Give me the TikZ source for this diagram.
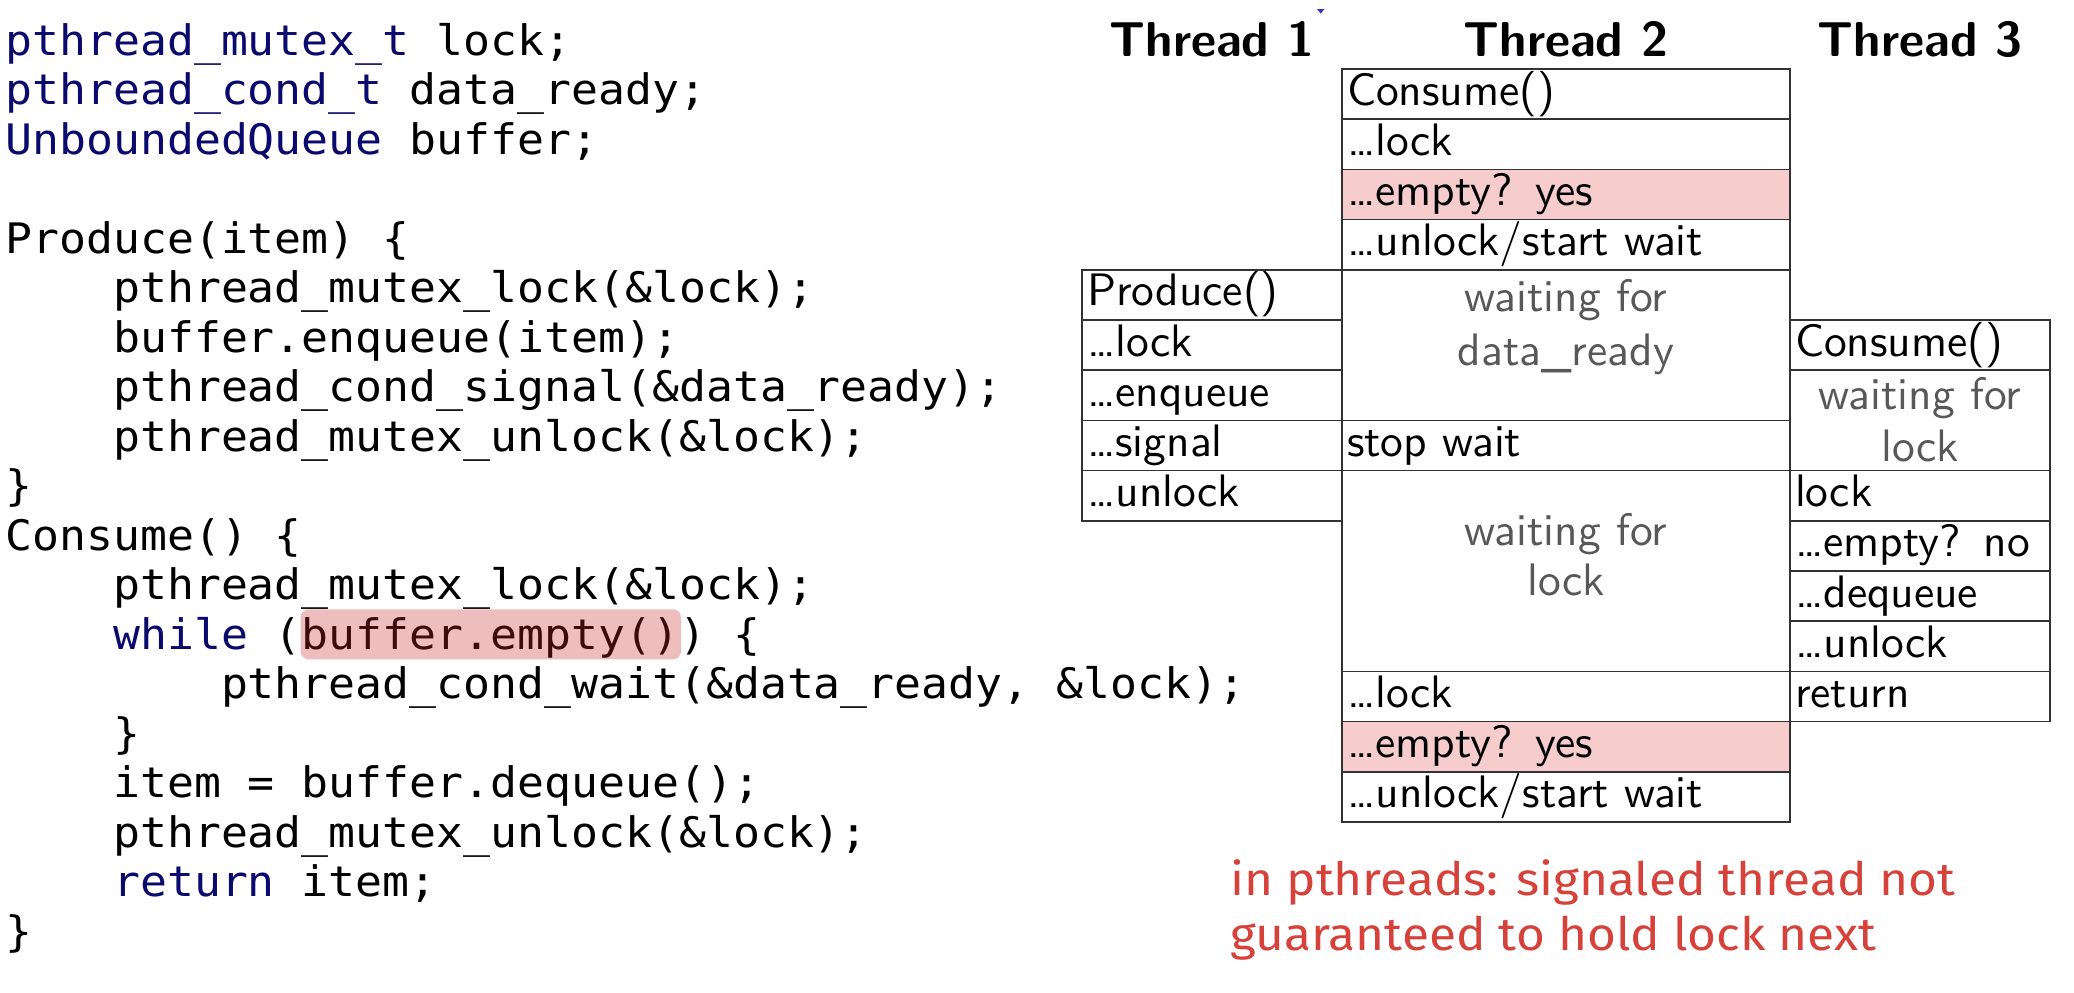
\documentclass[tikz,border=0pt]{standalone}
\usepackage{fontspec}
\usetikzlibrary{calc}
\newfontfamily\codefontfam{DejaVu Sans Mono}[FakeStretch=1.066]
\newfontfamily\cellfontfam{lmsans10-regular.otf}
\newfontfamily\hdrfontfam{lmsans10-bold.otf}
\newfontfamily\handfontfam{Fira Sans}[FakeStretch=1.078]
\definecolor{navy}{RGB}{10,10,110}
\definecolor{linec}{RGB}{50,50,50}
\definecolor{pinkfill}{RGB}{246,204,204}
\definecolor{hlred}{RGB}{200,40,40}
\definecolor{waitgray}{RGB}{88,88,88}
\definecolor{handred}{RGB}{214,66,58}
\definecolor{bluemark}{RGB}{50,50,210}
\newcommand\codef{\codefontfam\fontsize{21pt}{24pt}\selectfont}
\newcommand\cellf{\cellfontfam\fontsize{22.75pt}{27pt}\selectfont}
\newcommand\hdrf{\hdrfontfam\fontsize{24.5pt}{29pt}\selectfont}
\newcommand\handf{\handfontfam\fontsize{23pt}{27pt}\selectfont}
\newcommand\ind[1]{\hphantom{#1}}
\begin{document}
\begin{tikzpicture}[x=0.5pt,y=-0.5pt,
  code/.style={anchor=base west, inner sep=0pt, font=\codef, text=black},
  cell/.style={draw=linec, line width=0.8pt, anchor=north west, outer sep=0pt,
    inner xsep=2.5pt, inner ysep=0pt, minimum height=25.1pt,
    text height=18pt, text depth=7.1pt, align=left, font=\cellf, text=black},
  narrow/.style={cell, text width=125pt},
  wide/.style={cell, text width=219pt},
  pinkc/.style={fill=pinkfill},
  waitbox/.style={draw=linec, line width=0.8pt, anchor=north west, outer sep=0pt,
    inner sep=0pt, minimum height=#1},
  waittxt/.style={anchor=base, inner sep=0pt, font=\cellf, text=waitgray},
  hdr/.style={anchor=base, inner sep=0pt, font=\hdrf, text=black},
  hand/.style={anchor=base west, inner sep=0pt, font=\handf, text=handred}]
\useasboundingbox (0,0) rectangle (2074,992);

% ---------- code ----------
\node[code] (c0) at (5,55) {\textcolor{navy}{pthread\_mutex\_t} lock;};
\node[code] (c1) at (5,104.5) {\textcolor{navy}{pthread\_cond\_t} data\_ready;};
\node[code] (c2) at (5,154) {\textcolor{navy}{UnboundedQueue} buffer;};
\node[code] (c4) at (5,253) {Produce(item) \{};
\node[code] (c5) at (5,302.5) {\ind{0000}pthread\_mutex\_lock(\&lock);};
\node[code] (c6) at (5,352) {\ind{0000}buffer.enqueue(item);};
\node[code] (c7) at (5,401.5) {\ind{0000}pthread\_cond\_signal(\&data\_ready);};
\node[code] (c8) at (5,451) {\ind{0000}pthread\_mutex\_unlock(\&lock);};
\node[code] (c9) at (5,500.5) {\}};
\node[code] (c10) at (5,550) {Consume() \{};
\node[code] (c11) at (5,599.5) {\ind{0000}pthread\_mutex\_lock(\&lock);};
\node[code] (c12) at (5,649) {\ind{0000}\textcolor{navy}{while} (buffer.empty()) \{};
\node[code] (c13) at (5,698.5) {\ind{00000000}pthread\_cond\_wait(\&data\_ready, \&lock);};
\node[code] (c14) at (5,748) {\ind{0000}\}};
\node[code] (c15) at (5,797.5) {\ind{0000}item = buffer.dequeue();};
\node[code] (c16) at (5,847) {\ind{0000}pthread\_mutex\_unlock(\&lock);};
\node[code] (c17) at (5,896.5) {\ind{0000}\textcolor{navy}{return} item;};
\node[code] (c18) at (5,946) {\}};
\fill[hlred, fill opacity=0.3, rounded corners=4pt] (300.7,609.3) rectangle (681,659.3);

% ---------- headers ----------
\node[hdr] (h1) at (1212,56) {Thread 1};
\node[hdr] (h2) at (1566,56) {Thread 2};
\node[hdr] (h3) at (1920,56) {Thread 3};
\fill[bluemark] (1317,9) -- (1324.5,9) -- (1320.7,13.5) -- cycle;

% ---------- Thread 2 ----------
\node[wide] (t2a) at (1342,69) {Consume()};
\node[wide] (t2b) at (1342,119.2) {…lock};
\node[wide,pinkc] (t2c) at (1342,169.4) {…empty? yes};
\node[wide] (t2d) at (1342,219.6) {…unlock/start wait};
\node[waitbox=75.3pt, minimum width=224pt] (t2e) at (1342,269.8) {};
\node[wide] (t2f) at (1342,420.4) {stop wait};
\node[waitbox=100.4pt, minimum width=224pt] (t2g) at (1342,470.6) {};
\node[wide] (t2h) at (1342,671.4) {…lock};
\node[wide,pinkc] (t2i) at (1342,721.6) {…empty? yes};
\node[wide] (t2j) at (1342,771.8) {…unlock/start wait};
\node[waittxt] (w1) at (1566,311.6) {waiting for};
\node[waittxt] (w2) at (1566,365) {data\_ready};
\node[waittxt] (w3) at (1566,545) {waiting for};
\node[waittxt] (w4) at (1566,595) {lock};

% ---------- Thread 1 ----------
\node[narrow] (t1a) at (1082,269.8) {Produce()};
\node[narrow] (t1b) at (1082,320.0) {…lock};
\node[narrow] (t1c) at (1082,370.2) {…enqueue};
\node[narrow] (t1d) at (1082,420.4) {…signal};
\node[narrow] (t1e) at (1082,470.6) {…unlock};

% ---------- Thread 3 ----------
\node[narrow] (t3a) at (1790,320.0) {Consume()};
\node[waitbox=50.2pt, minimum width=130pt] (t3b) at (1790,370.2) {};
\node[narrow] (t3c) at (1790,470.6) {lock};
\node[narrow] (t3d) at (1790,520.8) {…empty? no};
\node[narrow] (t3e) at (1790,571.0) {…dequeue};
\node[narrow] (t3f) at (1790,621.2) {…unlock};
\node[narrow] (t3g) at (1790,671.4) {return};
\node[waittxt] (w5) at (1920,409.8) {waiting for};
\node[waittxt] (w6) at (1920,461.4) {lock};

% ---------- note ----------
\node[hand] (n1) at (1230,895) {in pthreads: signaled thread not};
\node[hand] (n2) at (1230,950) {guaranteed to hold lock next};
\end{tikzpicture}
\end{document}
